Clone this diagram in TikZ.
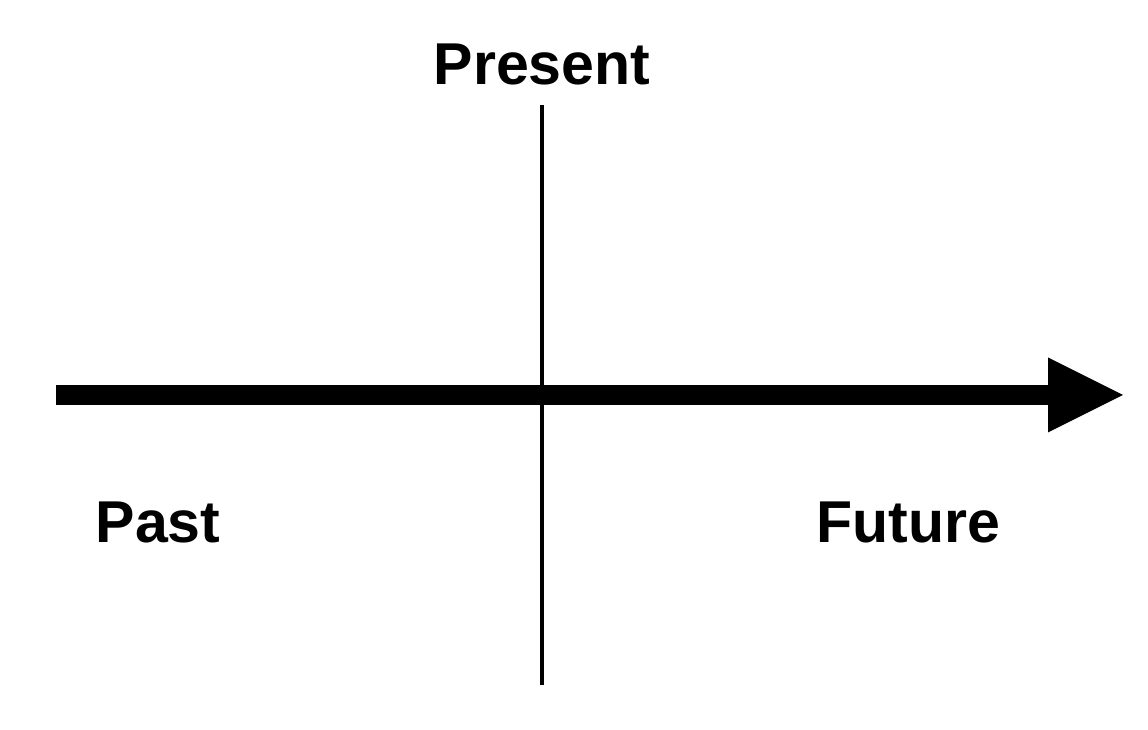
\documentclass[tikz,border=0pt]{standalone}
\usepackage{fontspec}
\setmainfont{Liberation Sans}
\usepackage{tikz}
\usetikzlibrary{arrows.meta}

\begin{document}
\begin{tikzpicture}[
    every node/.style={font=\fontsize{16.8pt}{20pt}\selectfont\bfseries, inner sep=0pt},
    axis/.style={line width=0.2cm, -{Triangle[length=0.75cm, width=0.75cm, line width=0pt]}},
    divider/.style={line width=0.035cm}
]
\useasboundingbox (0,0) rectangle (11.48,7.3);
% time axis
\coordinate (start) at (0.56,3.35);
\coordinate (end)   at (11.23,3.35);
\draw[axis] (start) -- (end);
% present marker
\coordinate (top)    at (5.42,6.25);
\coordinate (bottom) at (5.42,0.45);
\draw[divider] (top) -- (bottom);
% labels
\node[anchor=base]      (present) at (5.42,6.45) {Present};
\node[anchor=base west] (past)    at (0.95,1.87) {Past};
\node[anchor=base west] (future)  at (8.16,1.87) {Future};
\end{tikzpicture}
\end{document}
